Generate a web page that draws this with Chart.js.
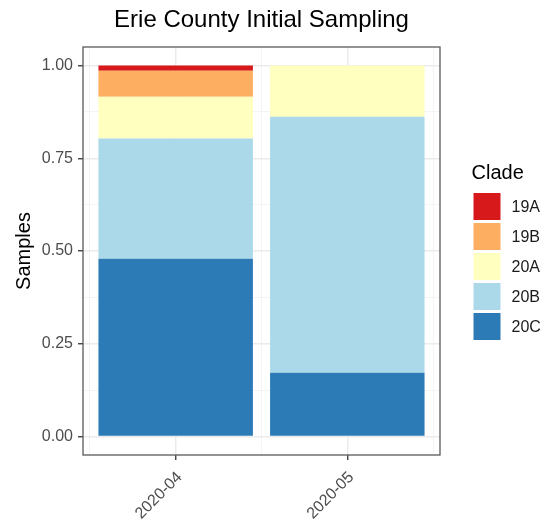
<!DOCTYPE html>
<html>
<head>
<meta charset="utf-8">
<script src="https://cdn.jsdelivr.net/npm/chart.js@4"></script>
<style>
  html, body { margin: 0; padding: 0; background: #fff; }
  #wrap { width: 543px; height: 519px; }
</style>
</head>
<body>
<div id="wrap"><canvas id="chart" width="543" height="519"></canvas></div>
<script>
// ── Data ──
const months = ['2020-04', '2020-05'];
const clade20C = [0.479, 0.172];
const clade20B = [0.324, 0.690];
const clade20A = [0.113, 0.138];
const clade19B = [0.070, 0];
const clade19A = [0.014, 0];
const yTicks = [0, 0.25, 0.5, 0.75, 1];

const FONT = "'Liberation Sans', Arial, sans-serif";

// stacked bottom → top, like ggplot
const series = [
  { label: '20C', data: clade20C, color: '#2C7BB6' },
  { label: '20B', data: clade20B, color: '#ABD9E9' },
  { label: '20A', data: clade20A, color: '#FFFFBF' },
  { label: '19B', data: clade19B, color: '#FDAE61' },
  { label: '19A', data: clade19A, color: '#D7191C' }
];

const tickVal = c => (c && c.tick) ? c.tick.value : NaN;
const isMajorY = c => yTicks.some(t => Math.abs(t - tickVal(c)) < 1e-9);
const isMajorX = c => Number.isInteger(tickVal(c));

// ── Panel border + legend ──
const panelPlugin = {
  id: 'panel',
  afterDatasetsDraw(chart) {
    const { ctx, chartArea: a } = chart;
    ctx.save();
    ctx.strokeStyle = '#5a5a5a';
    ctx.lineWidth = 1.3;
    ctx.strokeRect(a.left, a.top, a.right - a.left, a.bottom - a.top);
    ctx.restore();
  },
  afterDraw(chart) {
    const ctx = chart.ctx;
    const x0 = 473.5, top = 193, key = 27, step = 30;
    ctx.save();
    ctx.fillStyle = '#000';
    ctx.font = '20px ' + FONT;
    ctx.textBaseline = 'alphabetic';
    ctx.textAlign = 'left';
    ctx.fillText('Clade', 471.5, 178.5);
    ctx.font = '16px ' + FONT;
    ctx.textBaseline = 'middle';
    const ds = chart.data.datasets.slice().reverse();
    ds.forEach((d, i) => {
      const y = top + i * step;
      ctx.fillStyle = d.backgroundColor;
      ctx.fillRect(x0, y, key, key);
      ctx.fillStyle = '#1a1a1a';
      ctx.fillText(d.label, 511.5, y + key / 2 + 1);
    });
    ctx.restore();
  }
};

new Chart(document.getElementById('chart'), {
  type: 'bar',
  data: {
    datasets: series.map(s => ({
      label: s.label,
      data: s.data.map((v, i) => ({ x: i + 1, y: v })),
      backgroundColor: s.color,
      borderWidth: 0,
      // minor ticks sit half a category apart, so the ruler is half a band
      barPercentage: 0.9,
      categoryPercentage: 2
    }))
  },
  options: {
    responsive: false,
    animation: false,
    layout: { padding: { left: 0, right: 103, top: 0, bottom: 0 } },
    plugins: {
      legend: { display: false },
      tooltip: { enabled: false },
      title: {
        display: true,
        fullSize: false,
        text: 'Erie County Initial Sampling',
        color: '#000',
        font: { family: FONT, size: 24, weight: 'normal', lineHeight: 1.2 },
        padding: { top: 6, bottom: 12.2 }
      }
    },
    scales: {
      x: {
        type: 'linear',
        stacked: true,
        offset: false,
        min: 0.46,
        max: 2.54,
        afterBuildTicks: s => { s.ticks = [0.5, 1, 1.5, 2, 2.5].map(v => ({ value: v })); },
        afterFit: s => { s.height = 64; },
        border: { display: false },
        grid: {
          offset: false,
          color: c => isMajorX(c) ? '#EBEBEB' : '#F4F4F4',
          lineWidth: c => isMajorX(c) ? 1.5 : 1,
          tickColor: c => isMajorX(c) ? '#333' : 'rgba(0,0,0,0)',
          tickWidth: 1.3,
          tickLength: 5
        },
        ticks: {
          autoSkip: false,
          minRotation: 45,
          maxRotation: 45,
          padding: 8,
          labelOffset: 4,
          color: '#4D4D4D',
          font: { family: FONT, size: 16 },
          callback: v => Number.isInteger(v) ? months[v - 1] : ''
        }
      },
      y: {
        stacked: true,
        min: -0.05,
        max: 1.05,
        afterBuildTicks: s => {
          const t = [];
          for (let v = 0; v <= 1.0001; v += 0.125) t.push({ value: v });
          s.ticks = t;
        },
        afterFit: s => { s.width = 83; },
        border: { display: false },
        grid: {
          color: c => isMajorY(c) ? '#EBEBEB' : '#F4F4F4',
          lineWidth: c => isMajorY(c) ? 1.5 : 1,
          tickColor: c => isMajorY(c) ? '#333' : 'rgba(0,0,0,0)',
          tickWidth: 1.3,
          tickLength: 5
        },
        ticks: {
          padding: 5,
          color: '#4D4D4D',
          font: { family: FONT, size: 16 },
          callback: v => yTicks.some(t => Math.abs(t - v) < 1e-9) ? v.toFixed(2) : ''
        },
        title: {
          display: true,
          text: 'Samples',
          color: '#000',
          font: { family: FONT, size: 20, lineHeight: 1.2 },
          padding: { top: 12, bottom: 0 }
        }
      }
    }
  },
  plugins: [panelPlugin]
});
</script>
</body>
</html>
